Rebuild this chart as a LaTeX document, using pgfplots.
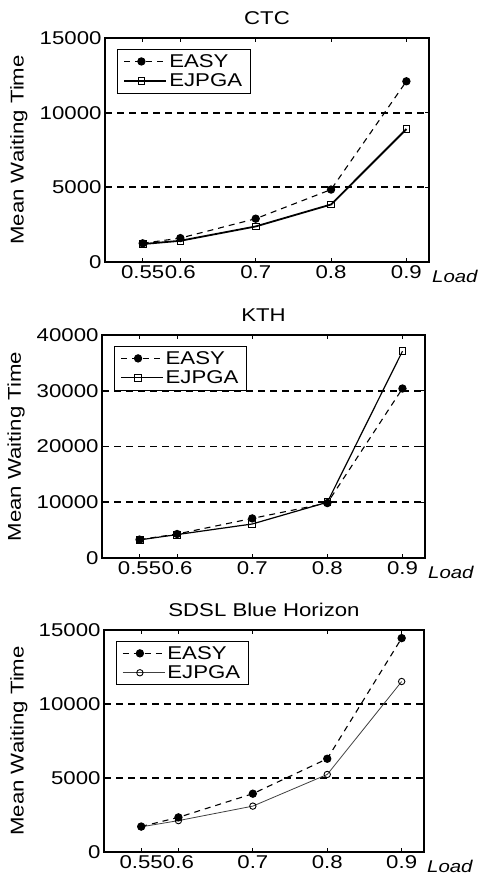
\documentclass[border=0pt]{standalone}
\usepackage{fontspec}
\setmainfont[FakeStretch=1.2]{Liberation Sans}
\usepackage{pgfplots}
\pgfplotsset{compat=1.18}

\newcommand{\fs}{\fontsize{18.5}{21}\selectfont}

\pgfplotsset{
  panel/.style={
    scale only axis,
    width=324pt, height=224pt,
    xmin=0.5, xmax=0.93,
    ymin=0,
    xtick={0.55,0.6,0.7,0.8,0.9},
    xticklabels={0.55,0.6,0.7,0.8,0.9},
    scaled ticks=false,
    /pgf/number format/.cd, 1000 sep={}, assume math mode=true, /pgfplots/.cd,
    tick align=inside,
    major tick length=4pt,
    tick style={black, line width=0.8pt},
    axis line style={line width=1.3pt},
    ymajorgrids=true,
    grid style={black, line width=1.8pt, dash pattern=on 7pt off 5pt},
    every tick label/.append style={font=\fs},
    title style={font=\fs, yshift=4pt},
    ylabel style={font=\fs, at={(axis description cs:-0.266,0.5)}, anchor=center},
    ylabel={Mean Waiting Time},
    xlabel style={font=\fontsize{17}{19}\selectfont\itshape, at={(axis description cs:1,0)}, anchor=north west, inner sep=1pt, xshift=2pt, yshift=-7pt},
    xlabel={Load},
    legend style={at={(axis description cs:0.037,0.952)}, anchor=north west,
      draw=black, line width=1pt, font=\fs, inner xsep=6pt, inner ysep=3pt,
      nodes={inner sep=2pt}, row sep=1pt},
    legend cell align=left,
    legend image code/.code={
      \path (0pt,0pt) -- (42pt,0pt);
      \draw[mark repeat=2,mark phase=2,#1] plot coordinates {(0pt,0pt) (17pt,0pt) (34pt,0pt)};},
  },
  easy/.style={black, line width=1.1pt, dash pattern=on 6pt off 5pt, mark=*, mark size=3.6pt, mark options={solid, fill=black}},
}

\begin{document}
\begin{tikzpicture}
\useasboundingbox (0,0) rectangle (481pt,882pt);

% CTC
\begin{axis}[panel, at={(105pt,620pt)}, anchor=south west,
  ymax=15000, ytick={0,5000,10000,15000}, title={CTC}]
  \addplot[easy] coordinates {(0.55,1250)(0.6,1600)(0.7,2900)(0.8,4850)(0.9,12100)};
  \addlegendentry{EASY}
  \addplot[black, line width=1.8pt, mark=square, mark size=3.4pt, mark options={fill=white, line width=0.9pt}]
    coordinates {(0.55,1200)(0.6,1420)(0.7,2380)(0.8,3850)(0.9,8900)};
  \addlegendentry{EJPGA}
\end{axis}

% KTH
\begin{axis}[panel, at={(102pt,324pt)}, anchor=south west, width=323pt, height=223pt,
  ymax=40000, ytick={0,10000,20000,30000,40000}, title={KTH}]
  \addplot[easy] coordinates {(0.55,3300)(0.6,4300)(0.7,7100)(0.8,9850)(0.9,30400)};
  \addlegendentry{EASY}
  \addplot[black, line width=1.2pt, mark=square, mark size=3.4pt, mark options={fill=white, line width=0.9pt}]
    coordinates {(0.55,3250)(0.6,4200)(0.7,6100)(0.8,10000)(0.9,37100)};
  \addlegendentry{EJPGA}
\end{axis}

% SDSL Blue Horizon
\begin{axis}[panel, at={(104pt,30pt)}, anchor=south west, width=320pt, height=222pt,
  ymax=15000, ytick={0,5000,10000,15000}, title={SDSL Blue Horizon}]
  \addplot[easy] coordinates {(0.55,1720)(0.6,2340)(0.7,3940)(0.8,6300)(0.9,14450)};
  \addlegendentry{EASY}
  \addplot[black!75, line width=0.8pt, mark=o, mark size=3.2pt, mark options={black, fill=white, line width=0.9pt}]
    coordinates {(0.55,1700)(0.6,2120)(0.7,3100)(0.8,5240)(0.9,11520)};
  \addlegendentry{EJPGA}
\end{axis}
\end{tikzpicture}
\end{document}
